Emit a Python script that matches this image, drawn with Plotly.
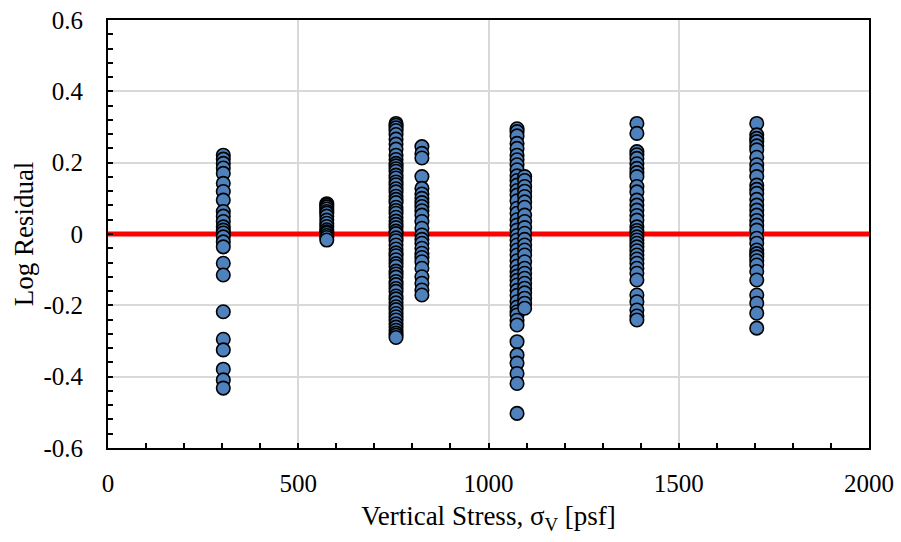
import plotly.graph_objects as go

# ---- data ----
stress_levels = [303, 575, 757, 825, 1075, 1095, 1390, 1705]

res_303 = [0.221, 0.210, 0.198, 0.185, 0.170, 0.142, 0.119, 0.095, 0.063, 0.050, 0.035,
           0.020, 0.011, 0.003, -0.008, -0.022, -0.036, -0.082, -0.115, -0.218,
           -0.295, -0.325, -0.379, -0.409, -0.432]
res_575 = [0.085, 0.081, 0.076, 0.070, 0.063, 0.058, 0.050, 0.039, 0.030, 0.021, 0.012,
           0.006, 0.002, -0.004, -0.010, -0.017]
res_757 = [0.310, 0.305, 0.298, 0.290, 0.279, 0.266, 0.252, 0.238, 0.221, 0.209, 0.198,
           0.191, 0.183, 0.176, 0.165, 0.157, 0.146, 0.138, 0.127, 0.118, 0.106, 0.097,
           0.088, 0.075, 0.066, 0.058, 0.047, 0.036, 0.027, 0.018, 0.008, 0.001, -0.011,
           -0.019, -0.031, -0.042, -0.053, -0.061, -0.072, -0.083, -0.091, -0.104, -0.112,
           -0.121, -0.133, -0.142, -0.153, -0.161, -0.174, -0.182, -0.193, -0.204, -0.212,
           -0.223, -0.232, -0.241, -0.252, -0.261, -0.270, -0.278, -0.284, -0.290]
res_825 = [0.245, 0.226, 0.213, 0.161, 0.128, 0.112, 0.100, 0.088, 0.077, 0.065, 0.053,
           0.035, 0.016, -0.003, -0.015, -0.026, -0.040, -0.054, -0.066, -0.078, -0.096,
           -0.120, -0.138, -0.157, -0.171]
res_1075 = [0.295, 0.287, 0.275, 0.254, 0.240, 0.221, 0.208, 0.194, 0.180, 0.163, 0.150,
            0.137, 0.122, 0.109, 0.093, 0.072, 0.058, 0.040, 0.025, 0.011, -0.004, -0.017,
            -0.031, -0.045, -0.059, -0.075, -0.090, -0.106, -0.118, -0.130, -0.143, -0.158,
            -0.172, -0.190, -0.205, -0.218, -0.227, -0.242, -0.255, -0.302, -0.339, -0.362,
            -0.391, -0.419, -0.503]
res_1095 = [0.161, 0.150, 0.133, 0.120, 0.105, 0.090, 0.075, 0.053, 0.035, 0.018, 0.002,
            -0.015, -0.031, -0.045, -0.059, -0.078, -0.096, -0.110, -0.124, -0.138, -0.152,
            -0.165, -0.180, -0.194, -0.208]
res_1390 = [0.310, 0.282, 0.231, 0.222, 0.212, 0.197, 0.184, 0.172, 0.161, 0.133, 0.118,
            0.095, 0.081, 0.067, 0.052, 0.039, 0.020, 0.010, 0.002, -0.008, -0.017, -0.026,
            -0.036, -0.047, -0.059, -0.070, -0.082, -0.096, -0.110, -0.129, -0.171, -0.190,
            -0.213, -0.230, -0.241]
res_1705 = [0.310, 0.278, 0.268, 0.259, 0.247, 0.236, 0.215, 0.194, 0.180, 0.161, 0.137,
            0.125, 0.114, 0.097, 0.081, 0.067, 0.053, 0.038, 0.025, 0.011, -0.012, -0.026,
            -0.045, -0.055, -0.064, -0.075, -0.087, -0.105, -0.129, -0.171, -0.194, -0.222,
            -0.264]

all_residuals = [res_303, res_575, res_757, res_825, res_1075, res_1095, res_1390, res_1705]

zero_x = [0, 2000]
zero_y = [0, 0]

x_ticks = [0, 500, 1000, 1500, 2000]
y_ticks = [-0.6, -0.4, -0.2, 0, 0.2, 0.4, 0.6]
y_tick_labels = ["-0.6", "-0.4", "-0.2", "0", "0.2", "0.4", "0.6"]

# ---- figure ----
xs, ys = [], []
for s, vals in zip(stress_levels, all_residuals):
    xs += [s] * len(vals)
    ys += vals

fig = go.Figure()
fig.add_trace(go.Scatter(x=zero_x, y=zero_y, mode="lines",
                         line=dict(color="#ff0000", width=5),
                         showlegend=False, hoverinfo="skip"))
fig.add_trace(go.Scatter(x=xs, y=ys, mode="markers",
                         marker=dict(size=13.5, color="#4f81bd",
                                     line=dict(color="black", width=1.6)),
                         showlegend=False))

font_family = "Liberation Serif, Times New Roman, serif"
axis_common = dict(
    showline=True, linecolor="black", linewidth=2, mirror=True,
    showgrid=True, gridcolor="#d9d9d9", gridwidth=1.5,
    zeroline=False,
    ticks="inside", ticklen=5, tickwidth=1.5, tickcolor="black",
    tickfont=dict(family=font_family, size=25, color="black"),
    automargin=False,
)

fig.update_layout(
    width=901, height=542,
    margin=dict(l=108, r=32, t=20, b=94, autoexpand=False),
    paper_bgcolor="white", plot_bgcolor="white",
    font=dict(family=font_family, color="black"),
    xaxis=dict(
        range=[0, 2000], tickvals=x_ticks, ticktext=[str(v) for v in x_ticks],
        minor=dict(dtick=100, ticks="inside", ticklen=5, tickwidth=1.5,
                   tickcolor="black", showgrid=False),
        ticklabelstandoff=12,
        title=dict(text="Vertical Stress, σ<sub>V</sub> [psf]",
                   font=dict(family=font_family, size=27, color="black"),
                   standoff=10),
        **axis_common,
    ),
    yaxis=dict(
        range=[-0.6, 0.6], tickvals=y_ticks, ticktext=y_tick_labels,
        minor=dict(dtick=0.04, tick0=0, ticks="inside", ticklen=5, tickwidth=1.5,
                   tickcolor="black", showgrid=False),
        ticklabelstandoff=18,
        title=dict(text="Log Residual",
                   font=dict(family=font_family, size=27, color="black"),
                   standoff=2),
        **axis_common,
    ),
)

fig.write_html(
    "out.html",
    config={"displayModeBar": False},
    post_script="document.body.style.margin='0';document.body.style.overflow='hidden';",
)
